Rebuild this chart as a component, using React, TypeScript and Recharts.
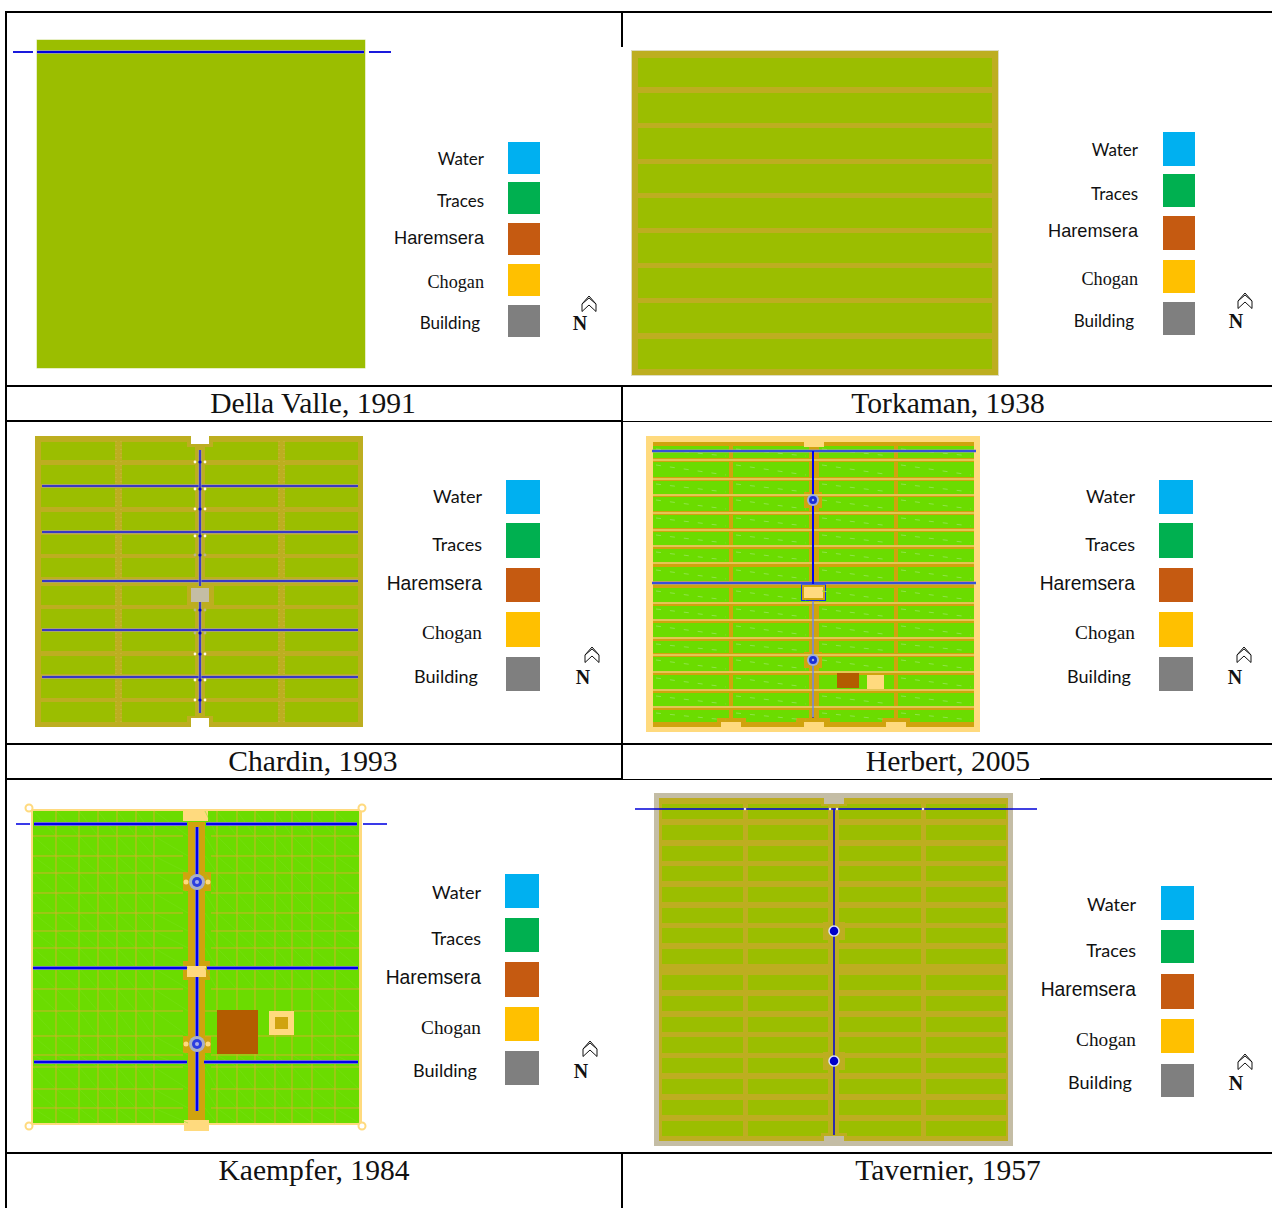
import { ScatterChart, Scatter, XAxis, YAxis, ReferenceArea, ReferenceLine } from 'recharts';

const legendLabels = ['Water', 'Traces', 'Haremsera', 'Chogan', 'Building'];
const legendFonts = ['Lato', 'Lato', 'Liberation Sans', 'Liberation Serif', 'Lato'];
const legendFontSizes = [17, 17, 18.2, 18.2, 17];
const legendScale = [1, 1, 1.06, 1.06, 1.06, 1.06];
const legendColors = ['#00B0F0', '#00B050', '#C55A11', '#FFC000', '#7F7F7F'];

const captions = ['Della Valle, 1991', 'Torkaman, 1938', 'Chardin, 1993', 'Herbert, 2005', 'Kaempfer, 1984', 'Tavernier, 1957'];
const captionX = [313, 948, 313, 948, 314, 948];
const captionY = [403, 403, 761, 761, 1170, 1170];

const swatchX = [[508, 540], [1163, 1195], [506, 540], [1159, 1193], [505, 539], [1161, 1194]];
const swatchY = [
  [[142, 174], [182, 214], [223, 255], [264, 296], [305, 337]],
  [[132, 166], [174, 207], [216, 250], [260, 293], [302, 335]],
  [[480, 514], [523, 558], [568, 602], [612, 647], [657, 691]],
  [[480, 514], [523, 558], [568, 602], [612, 647], [657, 691]],
  [[874, 908], [918, 952], [962, 997], [1007, 1041], [1051, 1085]],
  [[886, 920], [930, 963], [974, 1009], [1019, 1053], [1064, 1097]],
];
const labelRight = [484, 1138, 482, 1135, 481, 1136];
const labelY = [
  [158, 200, 238, 282, 322],
  [149, 193, 231, 279, 320],
  [496, 544, 583, 632, 676],
  [496, 544, 583, 632, 676],
  [892, 938, 977, 1027, 1070],
  [904, 950, 989, 1039, 1082],
];
const northX = [580, 1236, 583, 1235, 581, 1236];
const northY = [323, 321, 677, 677, 1071, 1083];
const arrowLift = [19, 20, 22, 22, 22, 21];

// x1, x2, y, weight
const ruleH = [
  [6, 1272, 12, 2],
  [6, 1272, 386, 2],
  [6, 622, 421, 2],
  [622, 1272, 421.5, 1],
  [6, 1272, 744, 2],
  [6, 622, 779, 2],
  [622, 1040, 779.5, 1],
  [1040, 1272, 779, 2],
  [6, 1272, 1153, 2],
];
// x, y1, y2
const ruleV = [
  [6, 11, 1208],
  [622, 12, 47],
  [622, 386, 779],
  [622, 1153, 1208],
];

const torkamanRows = [[58, 87], [93, 123], [128, 159], [164, 193], [198, 228], [233, 263], [268, 298], [303, 333], [339, 369]];

const chardinRows = [[442, 460], [465, 484], [488, 507], [512, 530], [535, 554], [558, 577], [586, 605], [609, 628], [632, 651], [656, 674], [679, 698], [702, 722]];
const chardinCols = [[41, 115], [122, 195], [205, 278], [285, 358]];
const chardinCanals = [486, 532, 581, 630, 677];
const chardinNodes = [462, 489, 509, 536, 555, 610, 633, 654, 680, 700];
const chardinSeams = [116, 121, 279, 284];

const herbertRows = [[446, 458], [462, 477], [481, 494], [497, 511], [515, 528], [532, 545], [549, 562], [567, 581], [588, 602], [606, 619], [623, 637], [641, 653], [657, 671], [675, 689], [693, 706], [710, 722]];
const herbertCols = [[653, 729], [733, 809], [819, 894], [898, 974]];
const herbertPaleLines = [460, 479, 495, 513, 530, 546, 563, 603, 620, 638, 655, 672, 690, 707];
const herbertGatesX = [[721, 741], [804, 824], [886, 906]];
const herbertGateSkirts = [[717, 746], [796, 830], [882, 910]];
const herbertNodes = [500, 660];

const kaempferH = [836, 856, 873, 893, 913, 931, 948, 989, 1011, 1036, 1055, 1067, 1089, 1108];
const kaempferRightBroken = [
  [205, 217, 1011], [294, 359, 1011], [205, 217, 1036], [258, 359, 1036],
];
const kaempferRightWhole = [836, 856, 873, 893, 913, 931, 948, 989, 1055, 1067, 1089, 1108];
const kaempferVLeft = [56, 79, 98, 117, 136, 154];
const kaempferVRightWhole = [312, 335];
const kaempferVRightBroken = [
  [217, 811, 1010], [217, 1054, 1123], [237, 811, 1010], [237, 1054, 1123], [255, 811, 1010], [255, 1054, 1123],
  [275, 811, 1011], [275, 1035, 1123], [292, 811, 1011], [292, 1035, 1123],
];
const kaempferRowEdges = [811, 836, 856, 873, 893, 913, 931, 948, 968, 989, 1011, 1036, 1055, 1067, 1089, 1108, 1123];
const kaempferColEdges = [[33, 56, 79, 98, 117, 136, 154, 188], [205, 217, 237, 255, 275, 292, 312, 335, 359]];
const kaempferCorners = [[29, 808], [362, 808], [29, 1126], [362, 1126]];
const kaempferCanals = [
  [34, 187, 824], [206, 357, 824],
  [33, 187, 968], [207, 358, 968], [34, 187, 1062], [204, 358, 1062],
];
const kaempferStubs = [[16, 30, 824], [363, 387, 824]];
const kaempferNodes = [882, 1044];

const tavernierRows = [[804, 819], [825, 840], [846, 861], [866, 881], [887, 902], [908, 923], [928, 943], [949, 964], [975, 990], [996, 1011], [1017, 1032], [1037, 1053], [1058, 1073], [1079, 1094], [1100, 1115], [1121, 1136]];
const tavernierCols = [[662, 743], [748, 828], [839, 921], [926, 1006]];
const tavernierNodes = [931, 1061];
const tavernierStuds = [745, 830, 837, 923];

const FIELD = '#9BBE00';
const BUND = '#BDAE20';
const BEIGE = '#C4BDA5';
const GREEN = '#6BDC00';
const OCHRE = '#D0A30E';
const PALE = '#FFDA7E';
const BLUE = '#0000E0';
const BROWN = '#B35C00';

const rect = (x1: number, x2: number, y1: number, y2: number, fill: string) => (
  <ReferenceArea
    key={`a${x1}-${x2}-${y1}-${y2}-${fill}`}
    x1={x1}
    x2={x2}
    y1={y1}
    y2={y2}
    fill={fill}
    fillOpacity={1}
    stroke="none"
    ifOverflow="visible"
  />
);

const line = (x1: number, y1: number, x2: number, y2: number, stroke: string, width: number, dash?: string) => (
  <ReferenceLine
    key={`l${x1}-${y1}-${x2}-${y2}-${stroke}-${width}`}
    segment={[{ x: x1, y: y1 }, { x: x2, y: y2 }]}
    stroke={stroke}
    strokeWidth={width}
    strokeDasharray={dash}
    ifOverflow="visible"
  />
);

const canal = (x1: number, y1: number, x2: number, y2: number, width = 2, stroke = BLUE) => [
  line(x1, y1, x2, y2, '#9a9ab8', width + 1.5),
  line(x1, y1, x2, y2, stroke, width),
];

const textRows = [
  ...captions.map((text, i) => ({ x: captionX[i], y: captionY[i], text, font: 'Liberation Serif', size: 29.6, anchor: 'middle', weight: 400 })),
  ...labelRight.flatMap((right, p) =>
    legendLabels.map((text, i) => ({
      x: i === 4 ? right - 4 : right,
      y: labelY[p][i],
      text,
      font: legendFonts[i],
      size: legendFontSizes[i] * legendScale[p],
      anchor: 'end',
      weight: 400,
    }))
  ),
  ...northX.map((x, i) => ({ x, y: northY[i], text: 'N', font: 'Liberation Serif', size: 20, anchor: 'middle', weight: 700 })),
];

const arrowRows = northX.map((x, i) => ({ x: x + 9, y: northY[i] - arrowLift[i] }));

const circleRows = [
  ...kaempferCorners.map(([x, y]) => ({ x, y, r: 3.5, fill: 'white', stroke: PALE, sw: 2 })),
  ...chardinNodes.flatMap((y, i) => {
    const dim = i === 4 || i === 5 || i === 6;
    const c = dim ? '#b9b48a' : '#fffbe0';
    return [
      { x: 195, y, r: 1.4, fill: c, stroke: 'none', sw: 0 },
      { x: 205, y, r: 1.4, fill: c, stroke: 'none', sw: 0 },
      { x: 200, y, r: 1.6, fill: '#0000C8', stroke: 'none', sw: 0 },
    ];
  }),
  ...herbertNodes.flatMap((y) => [
    { x: 813, y, r: 6, fill: '#a0aeda', stroke: 'none', sw: 0 },
    { x: 813, y, r: 4, fill: '#1a30d8', stroke: 'none', sw: 0 },
    { x: 813, y, r: 1.2, fill: '#a0aeda', stroke: 'none', sw: 0 },
  ]),
  ...kaempferNodes.flatMap((y) => [
    { x: 186, y, r: 2.5, fill: PALE, stroke: 'none', sw: 0 },
    { x: 208, y, r: 2.5, fill: PALE, stroke: 'none', sw: 0 },
    { x: 197, y, r: 8, fill: '#a9b0c4', stroke: 'none', sw: 0 },
    { x: 197, y, r: 5, fill: '#2a3ee0', stroke: 'none', sw: 0 },
    { x: 197, y, r: 2, fill: '#a9b0e4', stroke: 'none', sw: 0 },
  ]),
  ...tavernierNodes.map((y) => ({ x: 834, y, r: 5, fill: '#0000C8', stroke: '#dfe3f2', sw: 1.5 })),
  ...tavernierStuds.map((x) => ({ x, y: 809, r: 1.3, fill: '#e6e8f0', stroke: 'none', sw: 0 })),
];

const TextMark = (props: any) => {
  const { cx, cy, payload } = props;
  return (
    <text
      x={cx}
      y={cy}
      textAnchor={payload.anchor}
      dominantBaseline="central"
      fontFamily={payload.font}
      fontSize={payload.size}
      fontWeight={payload.weight}
      fill="#111"
    >
      {payload.text}
    </text>
  );
};

const ArrowMark = (props: any) => {
  const { cx, cy } = props;
  return (
    <path
      d={`M${cx} ${cy - 8}L${cx + 7} ${cy}V${cy + 7.5}L${cx} ${cy + 1}L${cx - 7} ${cy + 7.5}V${cy}ZM${cx - 7} ${cy}L${cx} ${cy - 6}L${cx + 7} ${cy}`}
      fill="none"
      stroke="#111"
      strokeWidth={1}
    />
  );
};

const CircleMark = (props: any) => {
  const { cx, cy, payload } = props;
  return <circle cx={cx} cy={cy} r={payload.r} fill={payload.fill} stroke={payload.stroke} strokeWidth={payload.sw} />;
};

const App = () => {
  return (
    <div style={{ position: 'absolute', left: 0, top: 0, width: 1272, height: 1208, background: '#fff' }}>
      <ScatterChart width={1272} height={1208} margin={{ top: 0, right: 0, bottom: 0, left: 0 }}>
        <XAxis type="number" dataKey="x" domain={[0, 1272]} hide />
        <YAxis type="number" dataKey="y" domain={[0, 1208]} reversed hide />

        {/* legends */}
        {swatchX.flatMap(([x1, x2], p) => swatchY[p].map(([y1, y2], i) => rect(x1, x2, y1, y2, legendColors[i])))}

        {/* Della Valle */}
        {rect(36.5, 365.5, 39.5, 368.5, '#CFE08A')}
        {rect(37, 365, 40, 368, FIELD)}

        {/* Torkaman */}
        {rect(631, 999, 50, 376, '#DEDCC0')}
        {rect(632, 998, 51, 375, BUND)}
        {torkamanRows.map(([y1, y2]) => rect(638, 992, y1, y2, FIELD))}

        {/* Chardin */}
        {rect(35, 363, 436, 727, BUND)}
        {chardinRows.flatMap(([y1, y2]) => chardinCols.map(([x1, x2]) => rect(x1, x2, y1, y2, FIELD)))}
        {rect(187, 214, 586, 605, BUND)}
        {rect(187, 213, 436, 447, BUND)}
        {rect(187, 213, 716, 727, BUND)}
        {rect(191, 209, 435, 444, '#FFFFFF')}
        {rect(191, 209, 718, 728, '#FFFFFF')}
        {rect(191, 209, 588, 602, BEIGE)}

        {/* Herbert */}
        {rect(646, 980, 436, 732, PALE)}
        {rect(653, 974, 442, 727, OCHRE)}
        {herbertRows.flatMap(([y1, y2]) => herbertCols.map(([x1, x2]) => rect(x1, x2, y1, y2, GREEN)))}
        {herbertNodes.map((y) => rect(804, 822, y - 8, y + 8, OCHRE))}
        {herbertGateSkirts.map(([x1, x2]) => rect(x1, x2, 718, 723, OCHRE))}
        {herbertGatesX.map(([x1, x2]) => rect(x1, x2, 722, 732, PALE))}
        {rect(804, 824, 442, 447, PALE)}
        {rect(801, 826, 584, 601, '#1030E8')}
        {rect(802, 825, 585, 600, OCHRE)}
        {rect(804, 823, 587, 598, PALE)}
        {rect(837, 859, 673, 688, BROWN)}
        {rect(867, 884, 675, 689, PALE)}

        {/* Kaempfer */}
        {rect(31, 362, 809, 1125, PALE)}
        {rect(33, 359, 811, 1123, GREEN)}
        {rect(188, 205, 822, 1120, OCHRE)}
        {rect(183, 211, 872, 891, OCHRE)}
        {rect(183, 211, 1036, 1053, OCHRE)}
        {rect(183, 210, 961, 980, OCHRE)}
        {rect(183, 208, 809, 821, PALE)}
        {rect(187, 206, 966, 977, PALE)}
        {rect(184, 209, 1120, 1131, PALE)}
        {rect(217, 258, 1010, 1054, BROWN)}
        {rect(269, 294, 1011, 1035, PALE)}
        {rect(275, 288, 1017, 1029, OCHRE)}

        {/* Tavernier */}
        {rect(654, 1013, 793, 1146, BEIGE)}
        {rect(659, 1008, 798, 1141, BUND)}
        {tavernierRows.flatMap(([y1, y2]) => tavernierCols.map(([x1, x2]) => rect(x1, x2, y1, y2, FIELD)))}
        {rect(821, 847, 803, 806, BUND)}
        {tavernierNodes.map((y) => rect(823, 845, y - 9, y + 9, BUND))}
        {rect(824, 844, 798, 804, BEIGE)}
        {rect(824, 844, 1136, 1146, BEIGE)}
        {rect(821, 847, 1133, 1136, BUND)}

        {/* table rules */}
        {ruleH.map(([x1, x2, y, w]) => line(x1, y, x2, y, '#000', w))}
        {ruleV.map(([x, y1, y2]) => line(x, y1, x, y2, '#000', 2))}

        {/* Della Valle canal */}
        {canal(37, 52, 364, 52, 2.2)}
        {line(13, 52, 33, 52, '#1a1adc', 2)}
        {line(369, 52, 391, 52, '#1a1adc', 2)}

        {/* Chardin canals */}
        {chardinSeams.map((x) => line(x, 441, x, 722, '#C8BC40', 1, '1 3'))}
        {chardinCanals.map((y) => canal(42, y, 358, y, 1.4, '#1818C8'))}
        {canal(200, 450, 200, 586, 1.4, '#1818C8')}
        {canal(200, 602, 200, 713, 1.4, '#1818C8')}

        {/* Herbert */}
        {herbertRows.flatMap(([y1, y2], r) =>
          herbertCols
            .filter((_, c) => !(r === 13 && c === 2))
            .map(([x1, x2]) => line(x1 + 3, y1 + 3, x2 - 3, y2 - 2, '#8FE44A', 1, '5 9'))
        )}
        {herbertPaleLines.map((y) => line(653, y, 974, y, '#F7E79A', 1))}
        {canal(652, 451, 976, 451, 1.6, '#1438E6')}
        {canal(652, 583, 976, 583, 1.6, '#1438E6')}
        {line(813, 451, 813, 584, '#0000F0', 2)}
        {line(813, 601, 813, 717, '#6F86EC', 1.5)}
        {line(813, 717, 813, 717.5, '#0000F0', 2)}

        {/* Kaempfer grid */}
        {kaempferColEdges.flatMap((edges) =>
          edges.slice(1).flatMap((x2, c) =>
            kaempferRowEdges.slice(1).flatMap((y2, r) => {
              const x1 = edges[c];
              const y1 = kaempferRowEdges[r];
              const overBrown = x2 > 216 && x1 < 295 && y2 > 1009 && y1 < 1055;
              return overBrown ? [] : [line(x1, y1, x2, y2, '#78E018', 0.5)];
            })
          )
        )}
        {kaempferH.map((y) => line(33, y, 183, y, '#D8AE2E', 0.9))}
        {kaempferRightWhole.map((y) => line(211, y, 359, y, '#D8AE2E', 0.9))}
        {kaempferRightBroken.map(([x1, x2, y]) => line(x1, y, x2, y, '#D8AE2E', 0.9))}
        {kaempferVLeft.map((x) => line(x, 811, x, 1123, '#D8AE2E', 0.9))}
        {kaempferVRightWhole.map((x) => line(x, 811, x, 1123, '#D8AE2E', 0.9))}
        {kaempferVRightBroken.map(([x, y1, y2]) => line(x, y1, x, y2, '#D8AE2E', 0.9))}
        {kaempferCanals.map(([x1, x2, y]) => canal(x1, y, x2, y, 2.5, '#0000EE'))}
        {kaempferStubs.map(([x1, x2, y]) => line(x1, y, x2, y, '#3A3AE8', 2))}
        {canal(197, 827, 197, 966, 2.6, '#0000EE')}
        {canal(197, 977, 197, 1111, 2.6, '#0000EE')}

        {/* Tavernier canals */}
        {line(635, 809, 1037, 809, '#0000D8', 1.5)}
        {line(834, 809, 834, 1135, '#0000D8', 1.5)}

        <Scatter data={circleRows} shape={CircleMark} isAnimationActive={false} />
        <Scatter data={arrowRows} shape={ArrowMark} isAnimationActive={false} />
        <Scatter data={textRows} shape={TextMark} isAnimationActive={false} />
      </ScatterChart>
    </div>
  );
};

export default App;
